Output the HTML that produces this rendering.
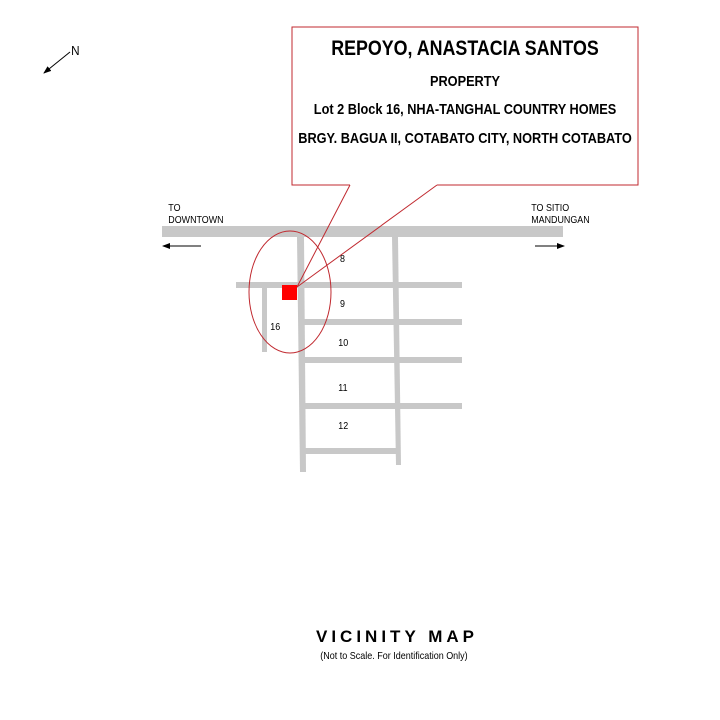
<!DOCTYPE html>
<html><head><meta charset="utf-8"><style>
html,body{margin:0;padding:0;background:#fff;width:720px;height:720px;overflow:hidden}
text{font-family:"Liberation Sans",Arial,sans-serif}
</style></head><body>
<svg width="720" height="720" viewBox="0 0 720 720" xmlns="http://www.w3.org/2000/svg">
<defs><marker id="ah" markerWidth="8" markerHeight="8" refX="7" refY="4" orient="auto" markerUnits="userSpaceOnUse"><path d="M0,1 L8,4 L0,7 z" fill="#000"/></marker></defs>
<!-- north -->
<line x1="70" y1="52" x2="44" y2="73" stroke="#000" stroke-width="1" marker-end="url(#ah)"/>
<text x="71" y="55" font-size="13" transform="scale(0.9,1) translate(8,0)">N</text>
<!-- roads -->
<g fill="#c8c8c8">
<rect x="162" y="226" width="401" height="11"/>
<rect x="236" y="282" width="226" height="6"/>
<rect x="300" y="319" width="162" height="6"/>
<rect x="301" y="357" width="161" height="6"/>
<rect x="302" y="403" width="160" height="6"/>
<rect x="303" y="448" width="97" height="6"/>
<rect x="262" y="287" width="5" height="65"/>
<polygon points="297,237 304,237 306,472 300,472"/>
<polygon points="392,237 398,237 401,465 396,465"/>
</g>
<!-- callout box -->
<path d="M350,185 L292,185 L292,27 L638,27 L638,185 L437,185" fill="none" stroke="#c0292f" stroke-width="1"/>
<line x1="350" y1="185" x2="297" y2="287" stroke="#c0292f" stroke-width="1"/>
<line x1="437" y1="185" x2="297" y2="287" stroke="#c0292f" stroke-width="1"/>
<g text-anchor="middle" fill="#000" transform="translate(465,0) scale(0.85,1)">
<text x="0" y="55" font-size="21" font-weight="bold">REPOYO, ANASTACIA SANTOS</text>
<text x="0" y="86" font-size="15" font-weight="bold">PROPERTY</text>
<text x="0" y="114" font-size="15" font-weight="bold">Lot 2 Block 16, NHA-TANGHAL COUNTRY HOMES</text>
<text x="0" y="143" font-size="15" font-weight="bold">BRGY. BAGUA II, COTABATO CITY,  NORTH COTABATO</text>
</g>
<ellipse cx="290" cy="292" rx="41" ry="61" fill="none" stroke="#c0292f" stroke-width="1"/>
<rect x="282" y="285" width="15" height="15" fill="#f00"/>
<!-- labels -->
<g font-size="10.5" fill="#000" transform="scale(0.85,1)">
<text x="400" y="262">8</text>
<text x="400" y="307">9</text>
<text x="318" y="330">16</text>
<text x="398" y="346">10</text>
<text x="398" y="391">11</text>
<text x="398" y="429">12</text>
<text x="198" y="211">TO</text>
<text x="198" y="223">DOWNTOWN</text>
<text x="625" y="211">TO SITIO</text>
<text x="625" y="223">MANDUNGAN</text>
</g>
<line x1="201" y1="246" x2="163" y2="246" stroke="#000" stroke-width="1" marker-end="url(#ah)"/>
<line x1="535" y1="246" x2="564" y2="246" stroke="#000" stroke-width="1" marker-end="url(#ah)"/>
<!-- title -->
<text x="397" y="642" font-size="17" font-weight="bold" text-anchor="middle" letter-spacing="4">VICINITY MAP</text>
<text x="394" y="659" font-size="10" text-anchor="middle" transform="translate(39.4,0) scale(0.9,1)">(Not to Scale. For Identification Only)</text>
</svg>
</body></html>
